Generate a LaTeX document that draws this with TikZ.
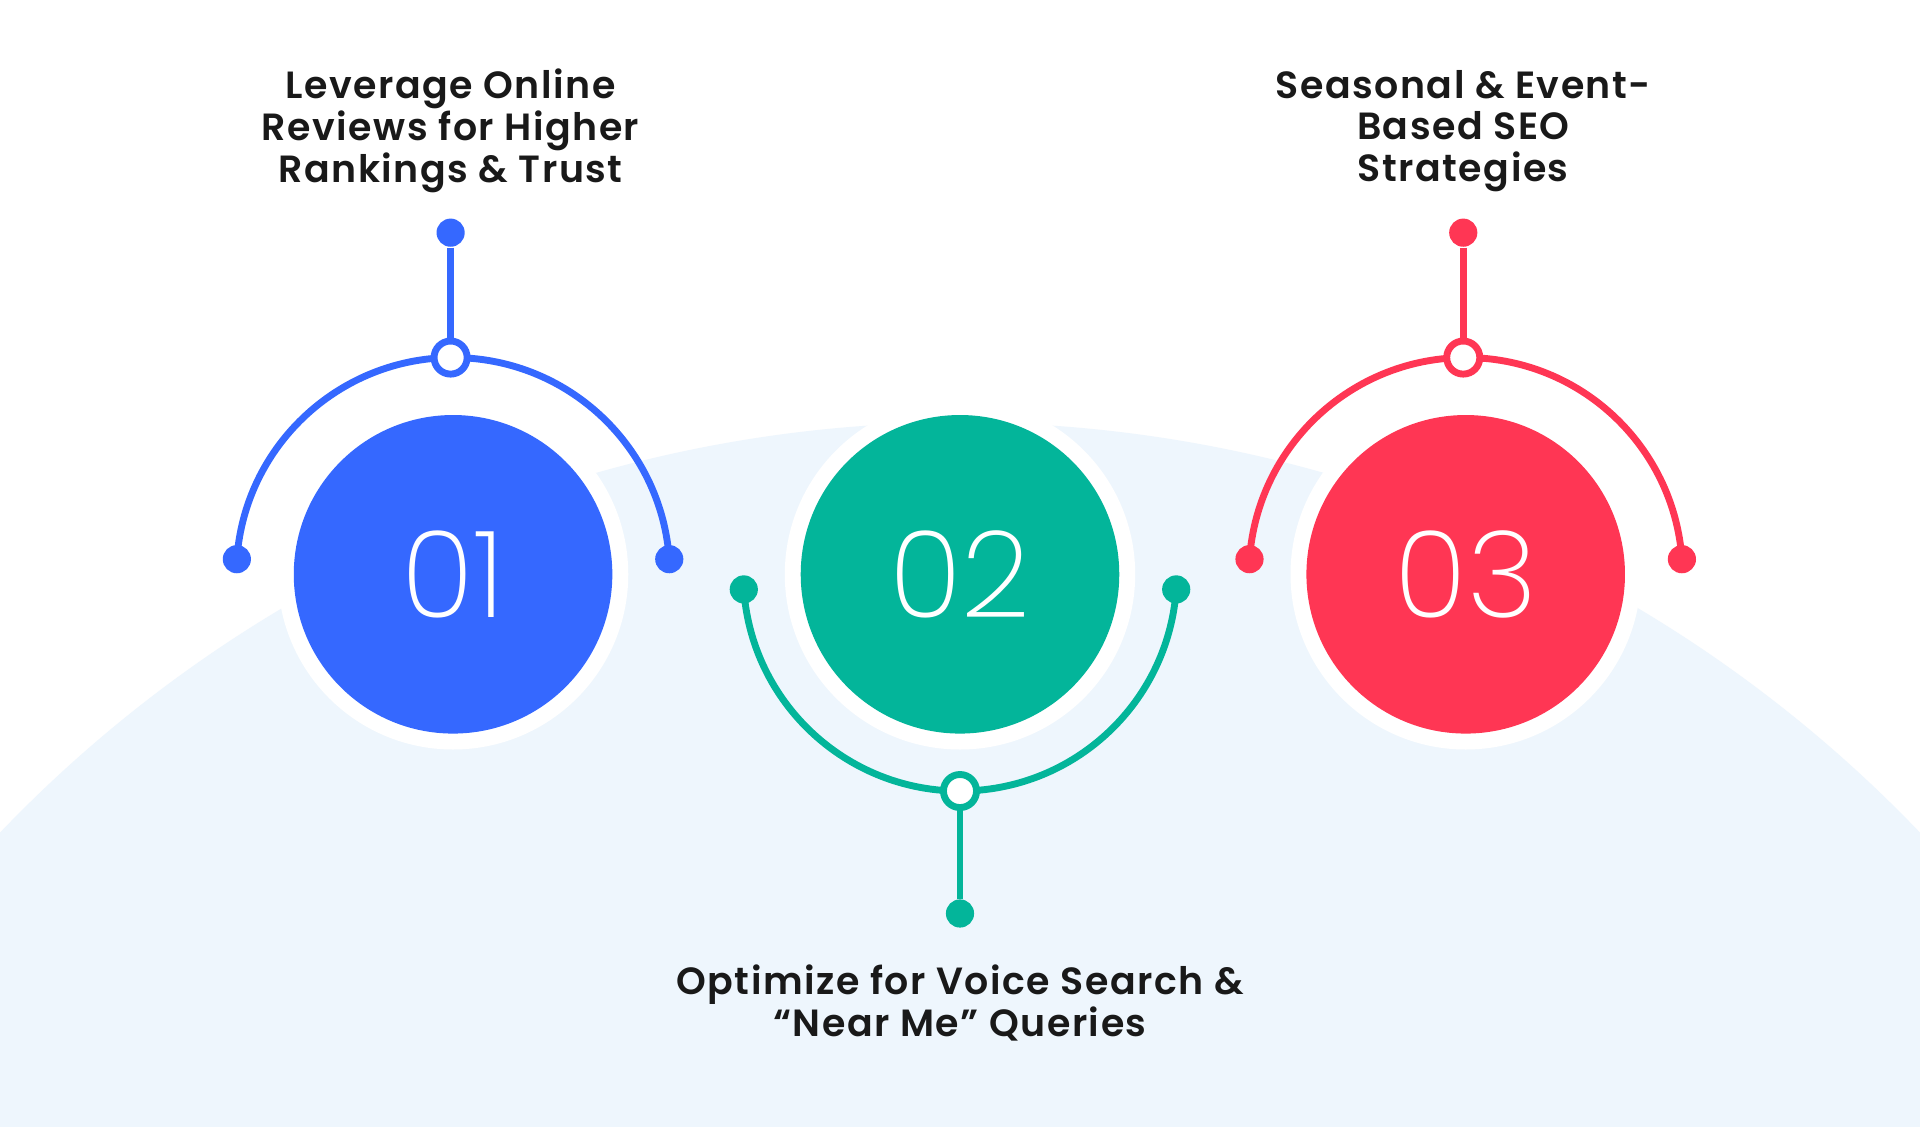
\documentclass[tikz,border=0pt]{standalone}
\usepackage{fontspec}
\setmainfont{Poppins}
\newfontfamily\numfont{Poppins}[UprightFont=* ExtraLight]
\newfontfamily\titlefont{Poppins}[UprightFont=* SemiBold,LetterSpace=4]
\usetikzlibrary{calc,positioning}
\definecolor{bgblue}{HTML}{EEF6FD}
\definecolor{cblue}{HTML}{3568FF}
\definecolor{cgreen}{HTML}{03B59A}
\definecolor{cred}{HTML}{FF3654}
\tikzset{numdisc/.style={circle,minimum size=2.6cm,inner sep=0pt,text=white,font=\numfont\fontsize{28}{28}\selectfont},
halo/.style={circle,fill=white,minimum size=2.86cm,inner sep=0pt},
enddot/.style={circle,inner sep=0pt,minimum size=0.23cm},
joint/.style={circle,fill=white,line width=1.6pt,inner sep=0pt,minimum size=0.27cm},
title/.style={align=center,font=\titlefont\fontsize{8.8}{9.7}\selectfont,text=black!90}}

\begin{document}
\begin{tikzpicture}[x=0.01cm,y=-0.01cm]

% Background
\fill[white] (0,0) rectangle (1568,920);
\begin{scope}
\clip (0,0) rectangle (1568,920);
\fill[bgblue] (784,1430) circle (1085);
\end{scope}
\useasboundingbox (0,0) rectangle (1568,920);

% Upper arcs (01, 03)
\foreach \n/\x/\col/\txt in {1/370/cblue/{Leverage Online\\Reviews for Higher\\Rankings \& Trust},3/1197/cred/{Seasonal \& Event-\\Based SEO\\Strategies}} {
  \coordinate (c\n) at (\x,469);
  \draw[\col,line width=1.6pt] ($(c\n)+(-176:177)$) arc[start angle=-176,end angle=-4,radius=177];
  \node[enddot,fill=\col] (l\n) at ($(c\n)+(-176:177)$) {};
  \node[enddot,fill=\col] (r\n) at ($(c\n)+(-4:177)$) {};
  \node[enddot,fill=\col] (t\n) at ($(c\n)+(-2,-279)$) {};
  \node[joint,draw=\col] (j\n) at ($(c\n)+(-2,-177)$) {};
  \draw[\col,line width=1.6pt] (t\n) -- (j\n);
  \node[title] (lab\n) at ($(c\n)+(-2,-362)$) {\txt};
  \node[halo] at (c\n) {};
  \node[numdisc,fill=\col] (d\n) at (c\n) {0\n};
}

% Lower arc (02)
\coordinate (c2) at (784,469);
\draw[cgreen,line width=1.6pt] ($(c2)+(176:177)$) arc[start angle=176,end angle=4,radius=177];
\node[enddot,fill=cgreen] (l2) at ($(c2)+(176:177)$) {};
\node[enddot,fill=cgreen] (r2) at ($(c2)+(4:177)$) {};
\node[enddot,fill=cgreen] (t2) at ($(c2)+(0,277)$) {};
\node[joint,draw=cgreen] (j2) at ($(c2)+(0,177)$) {};
\draw[cgreen,line width=1.6pt] (j2) -- (t2);
\node[title] (lab2) at ($(c2)+(0,350)$) {Optimize for Voice Search \&\\“Near Me” Queries};
\node[halo] at (c2) {};
\node[numdisc,fill=cgreen] (d2) at (c2) {02};

\end{tikzpicture}
\end{document}
